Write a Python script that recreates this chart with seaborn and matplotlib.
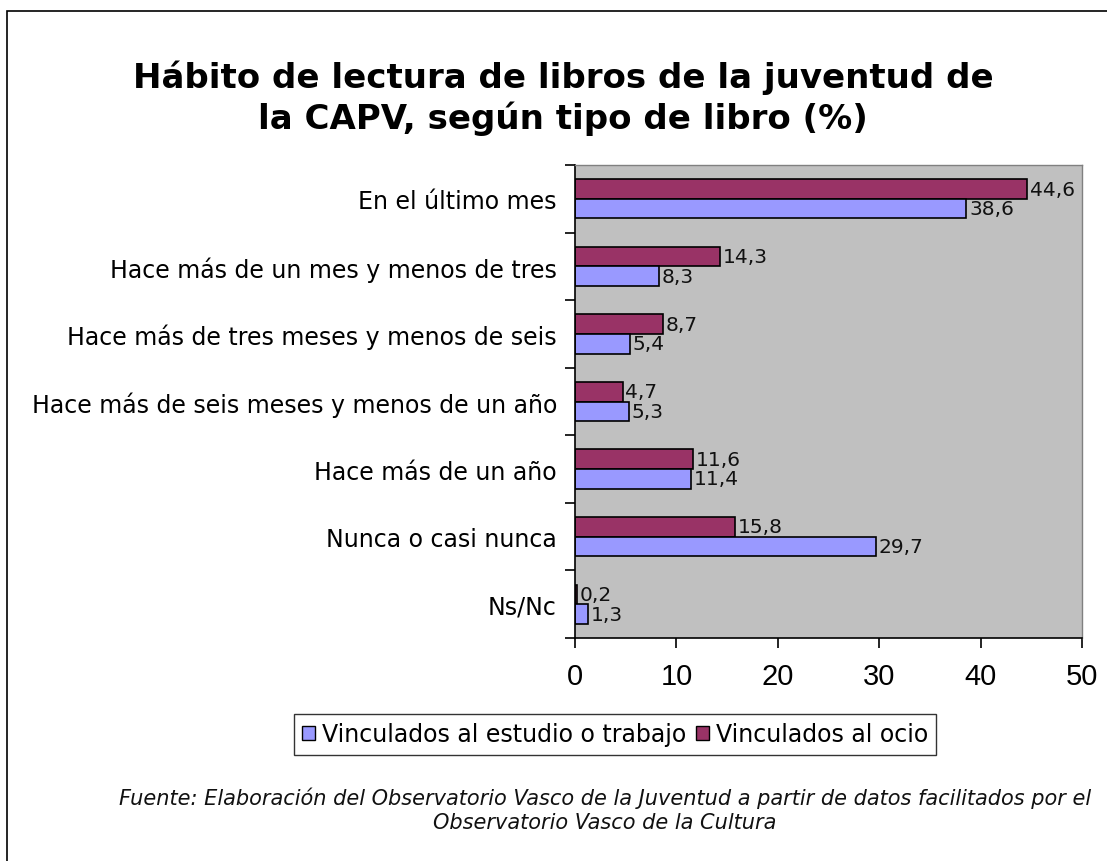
import pandas as pd
import matplotlib.pyplot as plt
import seaborn as sns
from matplotlib.patches import Rectangle, Patch

categories = ['En el último mes', 'Hace más de un mes y menos de tres',
              'Hace más de tres meses y menos de seis',
              'Hace más de seis meses y menos de un año',
              'Hace más de un año', 'Nunca o casi nunca', 'Ns/Nc']
estudio = [38.6, 8.3, 5.4, 5.3, 11.4, 29.7, 1.3]
ocio = [44.6, 14.3, 8.7, 4.7, 11.6, 15.8, 0.2]
series = ['Vinculados al estudio o trabajo', 'Vinculados al ocio']
colors = {'Vinculados al estudio o trabajo': '#9999FF', 'Vinculados al ocio': '#993366'}

df = pd.concat([
    pd.DataFrame({'cat': categories, 'valor': estudio, 'serie': series[0]}),
    pd.DataFrame({'cat': categories, 'valor': ocio, 'serie': series[1]}),
], ignore_index=True)

sns.set_style('ticks')
plt.rcParams['font.family'] = ['DejaVu Sans']
plt.rcParams['text.color'] = 'black'
plt.rcParams['xtick.color'] = 'black'
plt.rcParams['ytick.color'] = 'black'

fig = plt.figure(figsize=(11.07, 8.62), dpi=100)
ax = fig.add_axes([0.5194, 0.2587, 0.458, 0.5487])

# ocio first so it sits on top inside each group
sns.barplot(data=df, y='cat', x='valor', hue='serie', hue_order=series[::-1],
            order=categories, palette=colors, orient='h', width=0.58,
            edgecolor='black', linewidth=1.2, saturation=1, legend=False, ax=ax)

for cont in ax.containers:
    ax.bar_label(cont, labels=[f'{v:.1f}'.replace('.', ',') for v in cont.datavalues],
                 padding=2, fontsize=14.5, color='#111111')

ax.set_facecolor('#C0C0C0')
ax.set_xlim(0, 50)
ax.set_ylim(len(categories) - 0.5, -0.5)
ax.set_xticks([0, 10, 20, 30, 40, 50])
ax.set_xticklabels(['0', '10', '20', '30', '40', '50'], family='Liberation Sans', fontsize=21)
ax.set_yticks([i - 0.5 for i in range(len(categories) + 1)])
ax.set_yticklabels([])
ax.set_yticks(range(len(categories)), minor=True)
ax.set_yticklabels(categories, minor=True, fontsize=17)
ax.tick_params(axis='y', which='minor', left=False, length=0, pad=13)
ax.tick_params(axis='y', which='major', left=True, direction='out', length=7, width=1.2)
ax.tick_params(axis='x', bottom=True, direction='out', length=7, width=1.2, pad=10)
ax.set_xlabel('')
ax.set_ylabel('')
for s in ['left', 'bottom']:
    ax.spines[s].set_color('black')
    ax.spines[s].set_linewidth(1.2)
for s in ['top', 'right']:
    ax.spines[s].set_visible(True)
    ax.spines[s].set_color('#808080')
    ax.spines[s].set_linewidth(1)

handles = [Patch(facecolor=colors[s], edgecolor='black', label=s) for s in series]
leg = fig.legend(handles=handles, loc='center', bbox_to_anchor=(615 / 1107, 1 - 735.5 / 862),
                 ncol=2, fontsize=17, frameon=True, fancybox=False, handlelength=0.55,
                 handleheight=0.55, handletextpad=0.3, columnspacing=0.4, borderpad=0.35,
                 borderaxespad=0)
leg.get_frame().set_edgecolor('black')
leg.get_frame().set_linewidth(1)

fig.text(563 / 1107, 1 - 98 / 862, 'Hábito de lectura de libros de la juventud de\nla CAPV, según tipo de libro (%)',
         ha='center', va='center', fontsize=24.5, fontweight='bold', linespacing=1.25)

fig.text(605 / 1107, 1 - 810 / 862,
         'Fuente: Elaboración del Observatorio Vasco de la Juventud a partir de datos facilitados por el\n'
         'Observatorio Vasco de la Cultura',
         ha='center', va='center', fontsize=15, style='italic', color='#111111', linespacing=1.25)

fig.patches.append(Rectangle((7 / 1107, -0.1), 1.2, 1 - 12 / 862 + 0.1, transform=fig.transFigure,
                             fill=False, edgecolor='black', linewidth=1.2))

fig.savefig('out.png', dpi=100)
